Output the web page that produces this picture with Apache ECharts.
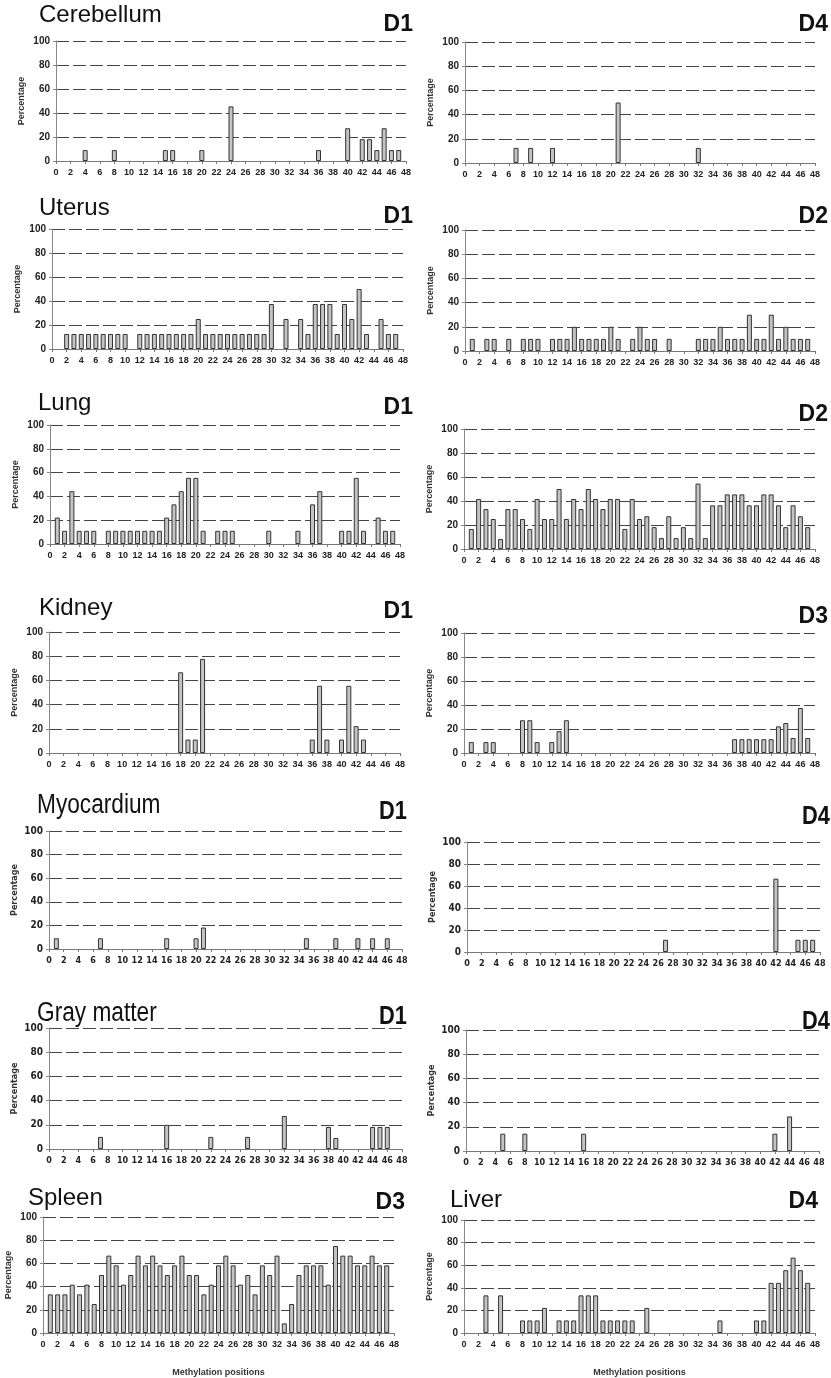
<!DOCTYPE html>
<html><head><meta charset="utf-8">
<script src="https://cdn.jsdelivr.net/npm/echarts@6/dist/echarts.min.js"></script>
<style>html,body{margin:0;padding:0;background:#fff}#c{width:831px;height:1378px}</style>
</head><body><div id="c"></div>
<script>
// Methylation positions 1..47 (index 0 = position 1)
const xTickLabels = [0,2,4,6,8,10,12,14,16,18,20,22,24,26,28,30,32,34,36,38,40,42,44,46,48];
const yTickLabels = [0,20,40,60,80,100];

const cerebellumD1 = [0,0,0,9.1,0,0,0,9.1,0,0, 0,0,0,0,9.1,9.1,0,0,0,9.1, 0,0,0,45.5,0,0,0,0,0,0, 0,0,0,0,0,9.1,0,0,0,27.3, 0,18.2,18.2,9.1,27.3,9.1,9.1];
const cerebellumD4 = [0,0,0,0,0,0,12.5,0,12.5,0, 0,12.5,0,0,0,0,0,0,0,0, 50,0,0,0,0,0,0,0,0,0, 0,12.5,0,0,0,0,0,0,0,0, 0,0,0,0,0,0,0];
const uterusD1 = [0,12.5,12.5,12.5,12.5,12.5,12.5,12.5,12.5,12.5, 0,12.5,12.5,12.5,12.5,12.5,12.5,12.5,12.5,25, 12.5,12.5,12.5,12.5,12.5,12.5,12.5,12.5,12.5,37.5, 0,25,0,25,12.5,37.5,37.5,37.5,12.5,37.5, 25,50,12.5,0,25,12.5,12.5];
const uterusD2 = [10,0,10,10,0,10,0,10,10,10, 0,10,10,10,20,10,10,10,10,20, 10,0,10,20,10,10,0,10,0,0, 0,10,10,10,20,10,10,10,30,10, 10,30,10,20,10,10,10];
const lungD1 = [22.2,11.1,44.4,11.1,11.1,11.1,0,11.1,11.1,11.1, 11.1,11.1,11.1,11.1,11.1,22.2,33.3,44.4,55.6,55.6, 11.1,0,11.1,11.1,11.1,0,0,0,0,11.1, 0,0,0,11.1,0,33.3,44.4,0,0,11.1, 11.1,55.6,11.1,0,22.2,11.1,11.1];
const lungD2 = [16.7,41.7,33.3,25,8.3,33.3,33.3,25,16.7,41.7, 25,25,50,25,41.7,33.3,50,41.7,33.3,41.7, 41.7,16.7,41.7,25,27.3,18.2,9.1,27.3,9.1,18.2, 9.1,54.5,9.1,36.4,36.4,45.5,45.5,45.5,36.4,36.4, 45.5,45.5,36.4,18.2,36.4,27.3,18.2];
const kidneyD1 = [0,0,0,0,0,0,0,0,0,0, 0,0,0,0,0,0,0,66.7,11.1,11.1, 77.8,0,0,0,0,0,0,0,0,0, 0,0,0,0,0,11.1,55.6,11.1,0,11.1, 55.6,22.2,11.1,0,0,0,0];
const kidneyD3 = [9.1,0,9.1,9.1,0,0,0,27.3,27.3,9.1, 0,9.1,18.2,27.3,0,0,0,0,0,0, 0,0,0,0,0,0,0,0,0,0, 0,0,0,0,0,0,11.5,11.5,11.5,11.5, 11.5,11.5,22.2,25,12.5,37.5,12.5];
const myocardiumD1 = [9.1,0,0,0,0,0,9.1,0,0,0, 0,0,0,0,0,9.1,0,0,0,9.1, 18.2,0,0,0,0,0,0,0,0,0, 0,0,0,0,9.1,0,0,0,9.1,0, 0,9.1,0,9.1,0,9.1,0];
const myocardiumD4 = [0,0,0,0,0,0,0,0,0,0, 0,0,0,0,0,0,0,0,0,0, 0,0,0,0,0,0,11.1,0,0,0, 0,0,0,0,0,0,0,0,0,0, 0,66.7,0,0,11.1,11.1,11.1];
const grayMatterD1 = [0,0,0,0,0,0,10,0,0,0, 0,0,0,0,0,20,0,0,0,0, 0,10,0,0,0,0,10,0,0,0, 0,27.3,0,0,0,0,0,18.2,9.1,0, 0,0,0,18.2,18.2,18.2,0];
const grayMatterD4 = [0,0,0,0,14.3,0,0,14.3,0,0, 0,0,0,0,0,14.3,0,0,0,0, 0,0,0,0,0,0,0,0,0,0, 0,0,0,0,0,0,0,0,0,0, 0,14.3,0,28.6,0,0,0];
const spleenD3 = [33.3,33.3,33.3,41.7,33.3,41.7,25,50,66.7,58.3, 41.7,50,66.7,58.3,66.7,58.3,50,58.3,66.7,50, 50,33.3,41.7,58.3,66.7,58.3,41.7,50,33.3,58.3, 50,66.7,8.3,25,50,58.3,58.3,58.3,41.7,75, 66.7,66.7,58.3,58.3,66.7,58.3,58.3];
const liverD4 = [0,0,33.3,0,33.3,0,0,11.1,11.1,11.1, 22.2,0,11.1,11.1,11.1,33.3,33.3,33.3,11.1,11.1, 11.1,11.1,11.1,0,22.2,0,0,0,0,0, 0,0,0,0,11.1,0,0,0,0,11.1, 11.1,44.4,44.4,55.6,66.7,55.6,44.4];

const panels = [
  {title:'Cerebellum', tag:'D1', values:cerebellumD1},
  {title:'', tag:'D4', values:cerebellumD4},
  {title:'Uterus', tag:'D1', values:uterusD1},
  {title:'', tag:'D2', values:uterusD2},
  {title:'Lung', tag:'D1', values:lungD1},
  {title:'', tag:'D2', values:lungD2},
  {title:'Kidney', tag:'D1', values:kidneyD1},
  {title:'', tag:'D3', values:kidneyD3},
  {title:'Myocardium', tag:'D1', values:myocardiumD1},
  {title:'', tag:'D4', values:myocardiumD4},
  {title:'Gray matter', tag:'D1', values:grayMatterD1},
  {title:'', tag:'D4', values:grayMatterD4},
  {title:'Spleen', tag:'D3', values:spleenD3},
  {title:'Liver', tag:'D4', values:liverD4}
];

// layout: grid box, title position, tag position, narrow font, x-axis name
const layout = [
  {g:[56,41,350,120], t:[39,15], d:[413,25]},
  {g:[465,42,350,121], d:[828,25]},
  {g:[52,229,351,120], t:[39,208], d:[413,217]},
  {g:[465,230,350,121], d:[828,217]},
  {g:[50,425,350,119], t:[38,403], d:[413,408]},
  {g:[464,429,351,120], d:[828,415]},
  {g:[49,632,351,121], t:[39,608], d:[413,612]},
  {g:[464,633,351,120], d:[828,617]},
  {g:[49,831,353,118], t:[37,806], d:[407,812], narrow:true},
  {g:[467,842,353,110], d:[830,817], narrow:true},
  {g:[49,1028,353,121], t:[37,1014], d:[407,1017], narrow:true},
  {g:[466,1030,353,121], d:[830,1022], narrow:true},
  {g:[43,1217,351,121], t:[28,1198], d:[405,1203], xname:true},
  {g:[464,1220,351,121], t:[450,1200], d:[818,1202], xname:true}
];

const SANS = "'Liberation Sans', Arial, Helvetica, sans-serif";
const NARROW = "'Liberation Sans Narrow', 'Arial Narrow', 'DejaVu Sans Condensed', 'Liberation Sans', sans-serif";

const grid = [], xAxis = [], yAxis = [], series = [], graphic = [];
panels.forEach((p, i) => {
  const L = layout[i];
  const ff = L.narrow ? NARROW : SANS;
  grid.push({left:L.g[0], top:L.g[1], width:L.g[2], height:L.g[3], containLabel:false});
  xAxis.push({
    type:'value', gridIndex:i, min:0, max:48, interval:2,
    name: L.xname ? 'Methylation positions' : '',
    nameLocation:'middle', nameGap:35,
    nameTextStyle:{fontFamily:SANS, fontWeight:'bold', fontSize:9, color:'#333'},
    axisLine:{show:true, onZero:false, lineStyle:{color:'#777', width:1}},
    axisTick:{show:true, length:3, lineStyle:{color:'#777'}},
    axisLabel:{show:true, margin:7, fontFamily:ff, fontWeight:'bold', fontSize:9, color:'#222', hideOverlap:false},
    splitLine:{show:false}
  });
  yAxis.push({
    type:'value', gridIndex:i, min:0, max:100, interval:20,
    name:'Percentage', nameLocation:'middle', nameGap:30, nameRotate:90,
    nameTextStyle:{fontFamily:ff, fontWeight:'bold', fontSize:9, color:'#333'},
    axisLine:{show:true, lineStyle:{color:'#888', width:1}},
    axisTick:{show:true, length:3, lineStyle:{color:'#888'}},
    axisLabel:{margin:6, fontFamily:ff, fontWeight:'bold', fontSize:10, color:'#222'},
    splitLine:{show:true, lineStyle:{color:'#444', width:1, type:[13,4]}}
  });
  const data = p.values.map((v, k) => [k + 1, v]).filter(d => d[1] > 0);
  series.push({
    type:'bar', xAxisIndex:i, yAxisIndex:i, data:data,
    barWidth: Math.round(L.g[2] / 48 * 0.68 * 10) / 10,
    itemStyle:{color:'#c4c4c4', borderColor:'#333', borderWidth:1},
    emphasis:{disabled:true}, animation:false, z:3
  });
  const sx = L.narrow ? 0.84 : 1;
  if (p.title) {
    graphic.push({type:'text', x:L.t[0], y:L.t[1], scaleX:sx, style:{text:p.title, fontFamily:SANS, fontSize:L.narrow ? 27 : 24, fill:'#111',
      align:'left', verticalAlign:'middle', textAlign:'left', textVerticalAlign:'middle'}});
  }
  graphic.push({type:'text', x:L.d[0], y:L.d[1], scaleX:sx, style:{text:p.tag, fontFamily:SANS, fontWeight:'bold', fontSize:L.narrow ? 26 : 23, fill:'#111',
    align:'right', verticalAlign:'middle', textAlign:'right', textVerticalAlign:'middle'}});
});

const chart = echarts.init(document.getElementById('c'), null, {renderer:'canvas'});
chart.setOption({backgroundColor:'#fff', animation:false, grid, xAxis, yAxis, series, graphic});
</script></body></html>
